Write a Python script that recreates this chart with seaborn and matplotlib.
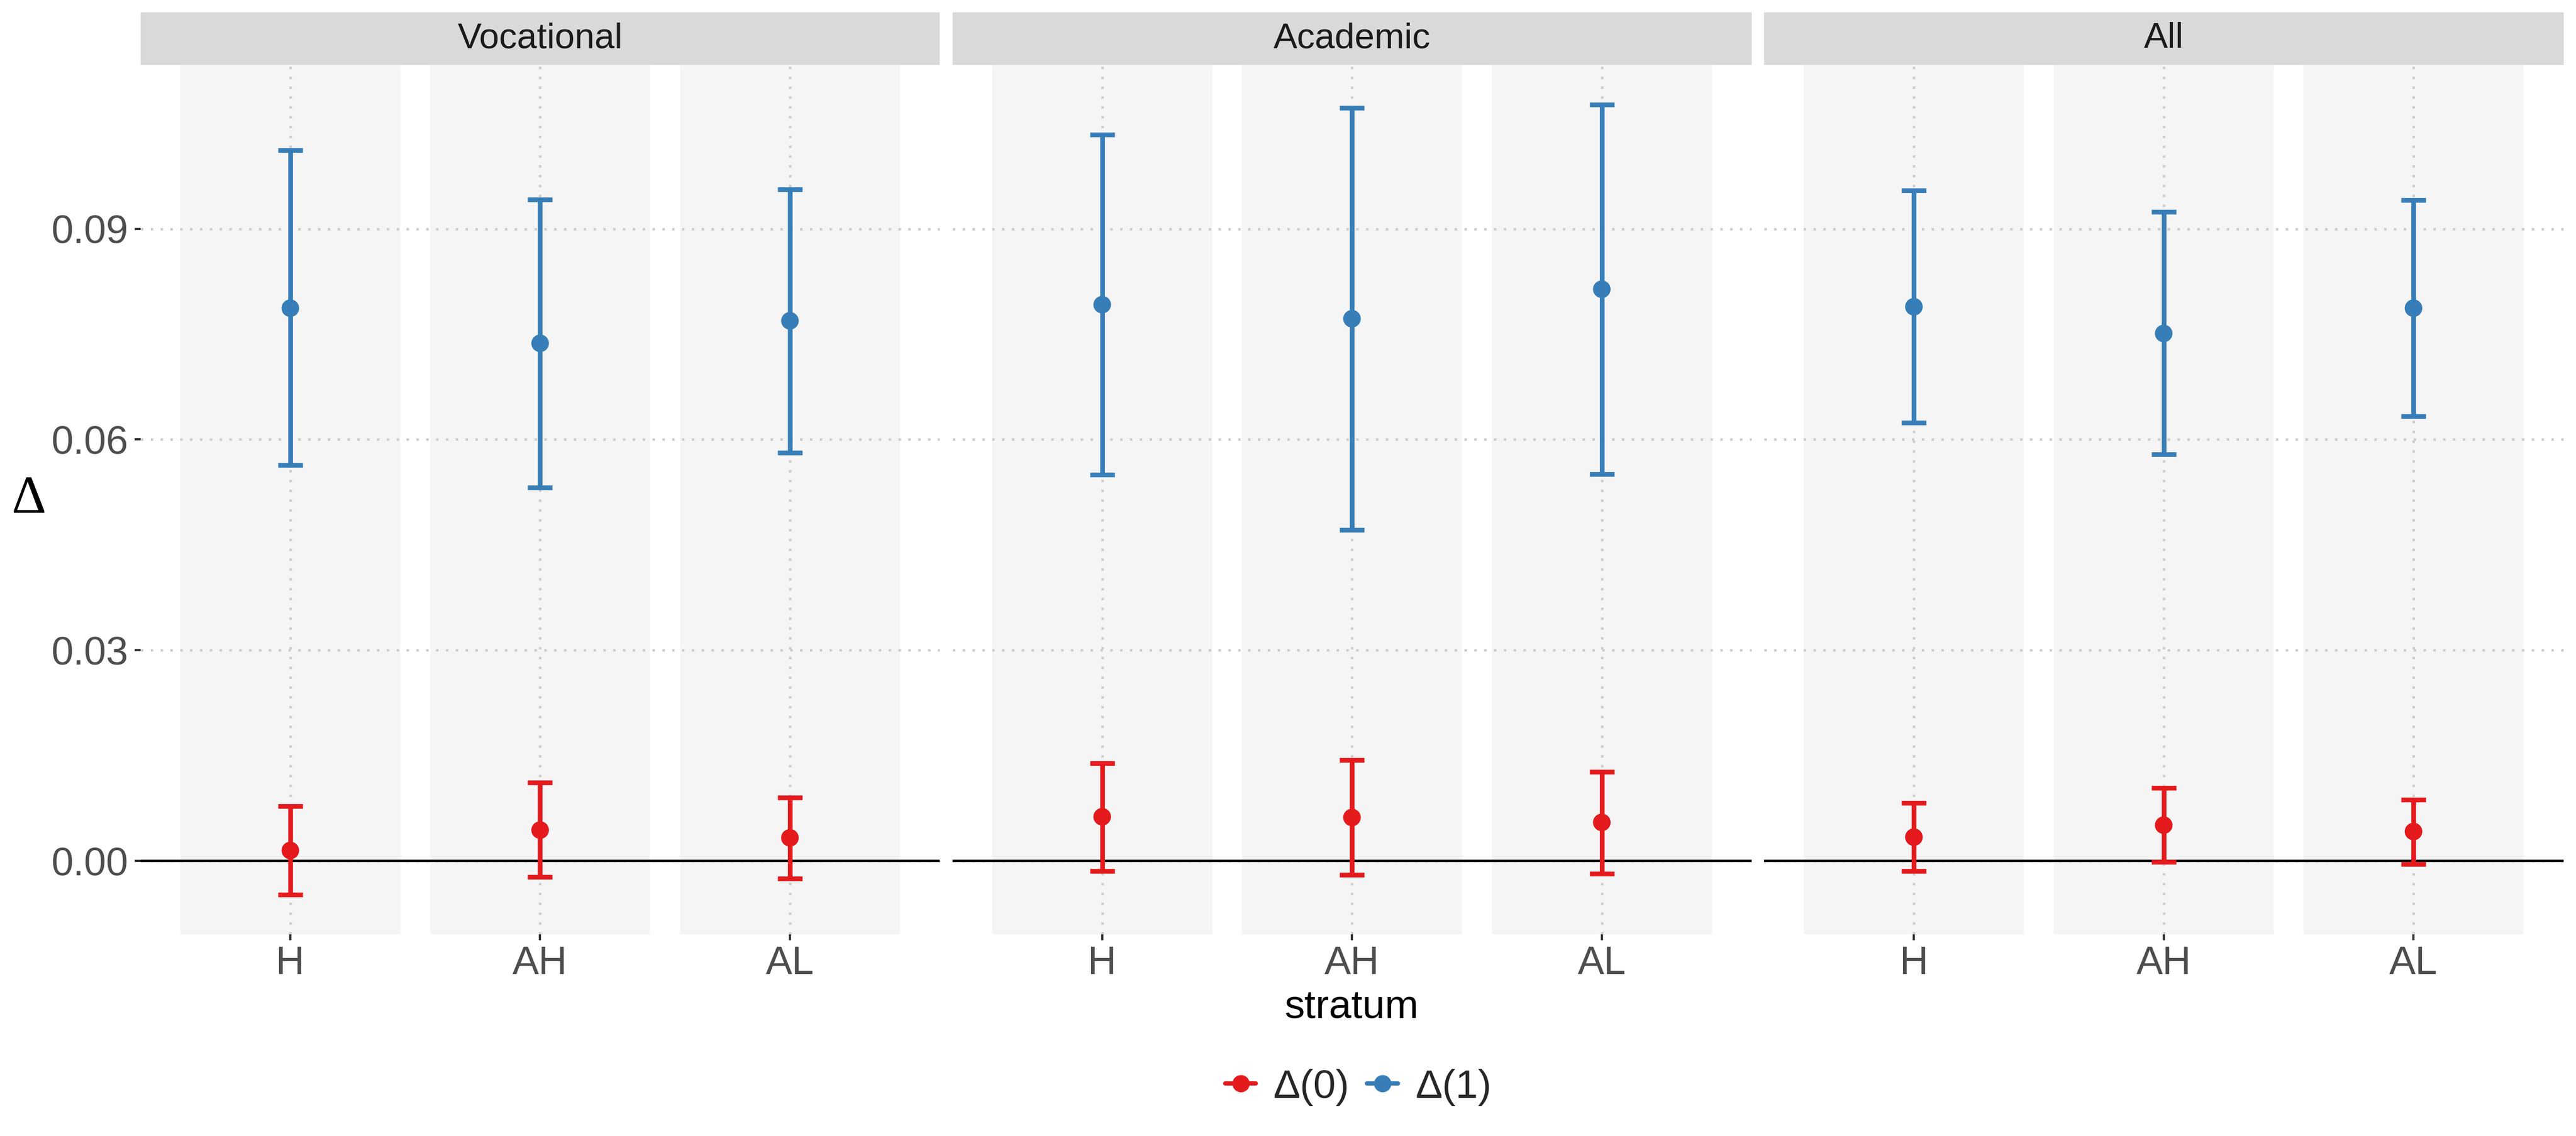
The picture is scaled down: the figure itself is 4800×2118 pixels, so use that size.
import numpy as np
import pandas as pd
import matplotlib
matplotlib.use("Agg")
import matplotlib.pyplot as plt
from matplotlib.lines import Line2D
from matplotlib.patches import Rectangle
import seaborn as sns

# ---------------- data ----------------
groups = ["Vocational", "Academic", "All"]
strata = ["H", "AH", "AL"]
series = ["Δ(0)", "Δ(1)"]

# Δ(0) estimates and 95% interval, per group (H, AH, AL)
d0_est = {"Vocational": [0.0015, 0.0044, 0.0033],
          "Academic":   [0.0063, 0.0062, 0.0055],
          "All":        [0.0034, 0.0051, 0.0042]}
d0_lo = {"Vocational": [-0.0048, -0.0023, -0.0025],
         "Academic":   [-0.0014, -0.0020, -0.0018],
         "All":        [-0.0014, -0.0001, -0.0004]}
d0_hi = {"Vocational": [0.0078, 0.0112, 0.0090],
         "Academic":   [0.0139, 0.0144, 0.0127],
         "All":        [0.0083, 0.0104, 0.0087]}

# Δ(1) estimates and 95% interval
d1_est = {"Vocational": [0.0787, 0.0737, 0.0769],
          "Academic":   [0.0792, 0.0772, 0.0814],
          "All":        [0.0789, 0.0751, 0.0787]}
d1_lo = {"Vocational": [0.0564, 0.0532, 0.0581],
         "Academic":   [0.0550, 0.0471, 0.0551],
         "All":        [0.0624, 0.0579, 0.0633]}
d1_hi = {"Vocational": [0.1012, 0.0942, 0.0956],
         "Academic":   [0.1034, 0.1072, 0.1077],
         "All":        [0.0955, 0.0924, 0.0941]}

y_ticks = [0.00, 0.03, 0.06, 0.09]
y_tick_labels = ["0.00", "0.03", "0.06", "0.09"]

rows = []
for g in groups:
    for i, s in enumerate(strata):
        rows.append(dict(group=g, stratum=s, pos=i, series=series[0],
                         est=d0_est[g][i], lo=d0_lo[g][i], hi=d0_hi[g][i]))
        rows.append(dict(group=g, stratum=s, pos=i, series=series[1],
                         est=d1_est[g][i], lo=d1_lo[g][i], hi=d1_hi[g][i]))
df = pd.DataFrame(rows)

palette = {series[0]: "#E41A1C", series[1]: "#377EB8"}

# ---------------- figure ----------------
sns.set_theme(style="white")
plt.rcParams["font.family"] = ["Liberation Sans", "DejaVu Sans"]

W, H = 4800, 2118
dpi = 300
fig = plt.figure(figsize=(W / dpi, H / dpi), dpi=dpi)

left_px = [261.7, 1774.5, 3287.0]
pw_px = 1489.5
top_px, bot_px = 121.0, 1741.5
strip_top_px = 23.0

ylim = (-0.0104, 0.11333)
xlim = (-0.6, 2.6)

axes = []
for k, g in enumerate(groups):
    ax = fig.add_axes([left_px[k] / W, 1 - bot_px / H, pw_px / W, (bot_px - top_px) / H])
    axes.append(ax)
    ax.set_facecolor("white")
    for sp in ax.spines.values():
        sp.set_visible(False)
    ax.set_xlim(*xlim)
    ax.set_ylim(*ylim)

    # background bands
    for i in range(len(strata)):
        ax.add_patch(Rectangle((i - 0.44, ylim[0]), 0.88, ylim[1] - ylim[0],
                               facecolor="#F5F5F5", edgecolor="none", zorder=0))
    # grid
    for yt in y_ticks:
        ax.axhline(yt, color="#CCCCCC", lw=1.1, ls=(0, (1, 3)), zorder=1)
    for i in range(len(strata)):
        ax.axvline(i, color="#CCCCCC", lw=1.1, ls=(0, (1, 3)), zorder=1)
    ax.axhline(0, color="black", lw=1.05, zorder=2)

    sub = df[df.group == g]
    for s in series:
        ss = sub[sub.series == s]
        ax.errorbar(ss["pos"], ss["est"],
                    yerr=[ss["est"] - ss["lo"], ss["hi"] - ss["est"]],
                    fmt="none", ecolor=palette[s], elinewidth=2.1,
                    capsize=5.5, capthick=2.1, zorder=3)
    sns.scatterplot(data=sub, x="pos", y="est", hue="series", palette=palette,
                    s=62, edgecolor="none", linewidth=0, ax=ax, legend=False, zorder=4)

    ax.set_xticks(range(len(strata)))
    ax.set_xticklabels(strata)
    ax.set_yticks(y_ticks)
    ax.set_xlabel("")
    ax.set_ylabel("")
    ax.tick_params(axis="x", length=2.6, width=1.0, color="#333333", pad=2.4,
                   labelsize=17.7, labelcolor="#4D4D4D", bottom=True)
    if k == 0:
        ax.set_yticklabels(y_tick_labels)
        ax.tick_params(axis="y", length=2.6, width=1.0, color="#333333", pad=3.0,
                       labelsize=17.7, labelcolor="#4D4D4D", left=True)
    else:
        ax.tick_params(axis="y", left=False, labelleft=False)

    # facet strip
    sh = (top_px - strip_top_px) / (bot_px - top_px)
    ax.add_patch(Rectangle((0, 1), 1, sh, transform=ax.transAxes, facecolor="#D9D9D9",
                           edgecolor="none", clip_on=False, zorder=5))
    ax.text(0.5, 1 + sh / 2, g, transform=ax.transAxes, ha="center", va="center",
            fontsize=16, color="#1A1A1A", zorder=6)

# axis titles
fig.text(2519 / W, 1 - 1898 / H, "stratum", ha="center", va="baseline",
         fontsize=18, color="black")
fig.text(53 / W, 1 - 932 / H, "Δ", ha="center", va="center", fontsize=24,
         family=["Liberation Serif", "DejaVu Serif"], color="black")

# legend
handles = [Line2D([0], [0], color=palette[s], lw=1.9, marker="o", markersize=7.7,
                  markeredgewidth=0) for s in series]
fig.legend(handles, series, loc="center", bbox_to_anchor=(2531 / W, 1 - 2027 / H),
           ncol=2, frameon=False, fontsize=18, handlelength=0.77, handletextpad=0.43,
           columnspacing=0.44)

fig.savefig("out.png", dpi=dpi, facecolor="white")
